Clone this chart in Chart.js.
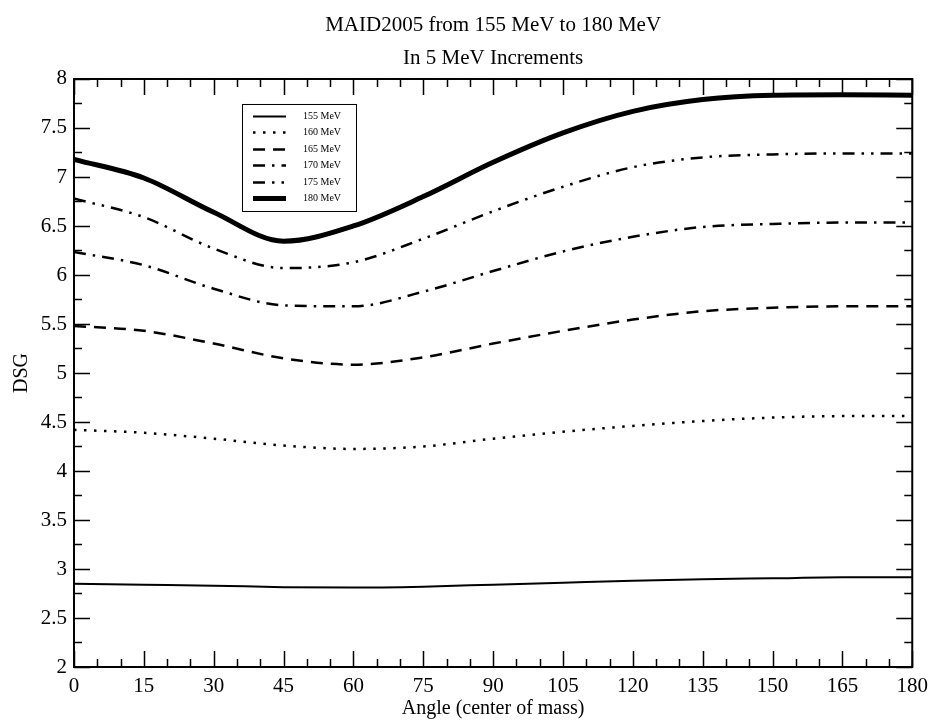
<!DOCTYPE html>
<html>
<head>
<meta charset="utf-8">
<title>MAID2005 from 155 MeV to 180 MeV</title>
<script src="https://cdn.jsdelivr.net/npm/chart.js@4.4.0/dist/chart.umd.min.js"></script>
<style>
  html, body { margin: 0; padding: 0; background: #fff; }
  #wrap { width: 935px; height: 723px; }
</style>
</head>
<body>
<div id="wrap"><canvas id="chart" width="935" height="723"></canvas></div>
<script>
// ---- data ----
const angles = [0, 15, 30, 45, 60, 75, 90, 105, 120, 135, 150, 165, 180];
const dsg155 = [2.85, 2.84, 2.83, 2.815, 2.81, 2.82, 2.84, 2.86, 2.88, 2.895, 2.905, 2.915, 2.915];
const dsg160 = [4.42, 4.39, 4.33, 4.26, 4.225, 4.25, 4.33, 4.40, 4.46, 4.51, 4.545, 4.56, 4.56];
const dsg165 = [5.48, 5.43, 5.30, 5.15, 5.085, 5.16, 5.30, 5.43, 5.545, 5.63, 5.665, 5.68, 5.68];
const dsg170 = [6.235, 6.10, 5.86, 5.69, 5.68, 5.83, 6.04, 6.24, 6.39, 6.49, 6.52, 6.535, 6.535];
const dsg175 = [6.78, 6.59, 6.27, 6.07, 6.13, 6.37, 6.65, 6.90, 7.10, 7.20, 7.23, 7.24, 7.24];
const dsg180 = [7.18, 6.99, 6.64, 6.345, 6.50, 6.80, 7.15, 7.45, 7.67, 7.79, 7.835, 7.84, 7.835];
const seriesLabels = ['155 MeV', '160 MeV', '165 MeV', '170 MeV', '175 MeV', '180 MeV'];
const xTicks = [0, 15, 30, 45, 60, 75, 90, 105, 120, 135, 150, 165, 180];
const yTicks = [2, 2.5, 3, 3.5, 4, 4.5, 5, 5.5, 6, 6.5, 7, 7.5, 8];

// ---- styles ----
const FONT = "'Liberation Serif', 'DejaVu Serif', serif";
const allSeries = [dsg155, dsg160, dsg165, dsg170, dsg175, dsg180];
const widths = [2, 2.5, 2.5, 2.5, 2.5, 5];
const dashes = [[], [2.5, 7.5], [12, 8], [12, 7, 2.5, 7], [12, 7, 2.5, 7, 2.5, 7], []];

const datasets = allSeries.map((vals, i) => ({
  label: seriesLabels[i],
  data: angles.map((a, k) => ({ x: a, y: vals[k] })),
  borderColor: '#000',
  borderWidth: widths[i],
  borderDash: dashes[i],
  borderCapStyle: 'butt',
  pointRadius: 0,
  fill: false,
  cubicInterpolationMode: 'monotone'
}));

// Cadre + graduations vers l'intérieur sur les 4 côtés
const frameTicks = {
  id: 'frameTicks',
  afterDraw(chart) {
    const { ctx, chartArea: a, scales: { x, y } } = chart;
    ctx.save();
    ctx.strokeStyle = '#000';
    ctx.lineWidth = 1.5;
    ctx.beginPath();
    const x0 = xTicks[0], x1 = xTicks[xTicks.length - 1];
    for (let v = x0; v <= x1; v += 5) {
      const px = Math.round(x.getPixelForValue(v)) + 0.5;
      const len = v % 15 === 0 ? 16 : 8;
      ctx.moveTo(px, a.top); ctx.lineTo(px, a.top + len);
      ctx.moveTo(px, a.bottom); ctx.lineTo(px, a.bottom - len);
    }
    const y0 = yTicks[0], y1 = yTicks[yTicks.length - 1];
    for (let v = y0; v <= y1 + 1e-9; v += 0.25) {
      const py = Math.round(y.getPixelForValue(v)) + 0.5;
      const len = Math.abs(v * 2 - Math.round(v * 2)) < 1e-6 ? 16 : 8;
      ctx.moveTo(a.left, py); ctx.lineTo(a.left + len, py);
      ctx.moveTo(a.right, py); ctx.lineTo(a.right - len, py);
    }
    ctx.stroke();
    ctx.lineWidth = 2;
    ctx.strokeRect(a.left, a.top, a.right - a.left, a.bottom - a.top);
    ctx.restore();
  }
};

// Légende encadrée dans la zone du graphique
const boxLegend = {
  id: 'boxLegend',
  afterDraw(chart) {
    const { ctx, chartArea: a } = chart;
    const bx = a.left + 168, by = a.top + 25, bw = 114, bh = 107;
    ctx.save();
    ctx.fillStyle = '#fff';
    ctx.fillRect(bx, by, bw, bh);
    ctx.strokeStyle = '#000';
    ctx.lineWidth = 1;
    ctx.strokeRect(bx + 0.5, by + 0.5, bw, bh);
    ctx.font = '10px ' + FONT;
    ctx.textBaseline = 'middle';
    ctx.fillStyle = '#000';
    chart.data.datasets.forEach((ds, i) => {
      const ry = Math.round(by + 12 + i * 16.4) + 0.5;
      ctx.lineWidth = ds.borderWidth;
      ctx.setLineDash(ds.borderDash || []);
      ctx.lineCap = 'butt';
      ctx.beginPath();
      ctx.moveTo(bx + 11, ry);
      ctx.lineTo(bx + 44, ry);
      ctx.stroke();
      ctx.setLineDash([]);
      ctx.fillText(ds.label, bx + 61, ry);
    });
    ctx.restore();
  }
};

new Chart(document.getElementById('chart'), {
  type: 'line',
  data: { datasets },
  options: {
    responsive: false,
    animation: false,
    devicePixelRatio: 1,
    layout: { padding: { left: 0, right: 22, top: 0, bottom: 0 } },
    plugins: {
      legend: { display: false },
      tooltip: { enabled: false },
      title: {
        display: true,
        fullSize: false,
        text: ['MAID2005 from 155 MeV to 180 MeV', 'In 5 MeV Increments'],
        color: '#000',
        font: { family: FONT, size: 21, weight: 'normal', lineHeight: 1.571 },
        padding: { top: 9, bottom: 4 }
      }
    },
    scales: {
      x: {
        type: 'linear',
        min: 0,
        max: 180,
        afterBuildTicks: s => { s.ticks = xTicks.map(v => ({ value: v })); },
        afterFit: s => { s.height = 56; },
        grid: { display: false, drawTicks: false },
        border: { display: false },
        ticks: { color: '#000', font: { family: FONT, size: 21 }, padding: 7, maxRotation: 0, autoSkip: false },
        title: { display: true, text: 'Angle (center of mass)', color: '#000', font: { family: FONT, size: 20 }, padding: { top: 0, bottom: 2 } }
      },
      y: {
        type: 'linear',
        min: 2,
        max: 8,
        afterBuildTicks: s => { s.ticks = yTicks.map(v => ({ value: v })); },
        afterFit: s => { s.width = 74; },
        grid: { display: false, drawTicks: false },
        border: { display: false },
        ticks: { color: '#000', font: { family: FONT, size: 21 }, padding: 7, autoSkip: false, callback: v => String(v) },
        title: { display: true, text: 'DSG', color: '#000', font: { family: FONT, size: 20 }, padding: { top: 10, bottom: 0 } }
      }
    }
  },
  plugins: [frameTicks, boxLegend]
});
</script>
</body>
</html>
